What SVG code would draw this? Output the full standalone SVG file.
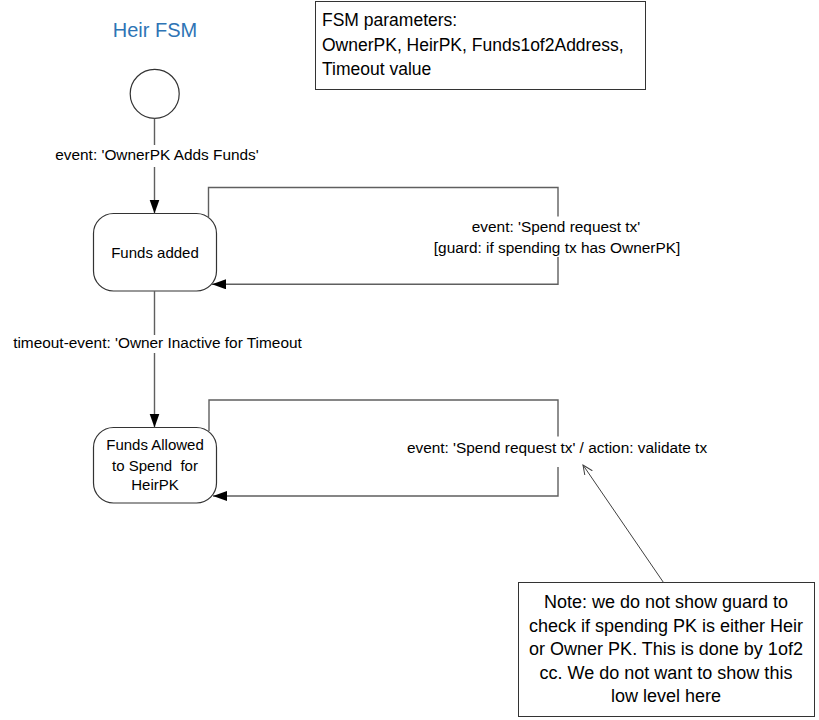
<svg xmlns="http://www.w3.org/2000/svg" width="819" height="720" viewBox="0 0 819 720">
  <style>
    text { font-family: "Liberation Sans", Arial, sans-serif; fill: #000; }
    .title { font-size: 20px; fill: #2e74b5; text-anchor: middle; }
    .param { font-size: 17.5px; }
    .lbl { font-size: 15.4px; text-anchor: middle; white-space: pre; }
    .st { font-size: 15px; text-anchor: middle; white-space: pre; }
    .note { font-size: 18px; text-anchor: middle; }
    .box { fill: #fff; stroke: #333; stroke-width: 1; }
    .state { fill: #fff; stroke: #333; stroke-width: 1.2; }
    .conn { fill: none; stroke: #5f5f5f; stroke-width: 1.4; }
    .noteline { fill: none; stroke: #404040; stroke-width: 1; }
  </style>
  <defs>
    <marker id="arr" markerUnits="userSpaceOnUse" markerWidth="15" markerHeight="11" refX="14" refY="5" orient="auto">
      <path d="M0,0 L14,5 L0,10 z" fill="#000"/>
    </marker>
    <marker id="open" markerUnits="userSpaceOnUse" markerWidth="12" markerHeight="10" refX="10" refY="4.5" orient="auto">
      <path d="M0,0 L10,4.5 L0,9" fill="none" stroke="#404040" stroke-width="1"/>
    </marker>
  </defs>

  <g id="title">
    <text class="title" x="155" y="37">Heir FSM</text>
  </g>

  <g id="params">
    <rect class="box" x="315.5" y="1.5" width="330" height="88"/>
    <text class="param" x="322" y="26">FSM parameters:</text>
    <text class="param" x="322" y="51">OwnerPK, HeirPK, Funds1of2Address,</text>
    <text class="param" x="322" y="74.5">Timeout value</text>
  </g>

  <g id="initial">
    <circle cx="154.7" cy="93.8" r="24.5" fill="#fff" stroke="#333" stroke-width="1.2"/>
  </g>

  <g id="funds-added">
    <rect class="state" x="93.5" y="213.5" width="123" height="77.5" rx="20" ry="20"/>
    <text class="st" x="155" y="258">Funds added</text>
  </g>

  <g id="funds-allowed">
    <rect class="state" x="93.5" y="427.5" width="123" height="75.5" rx="20" ry="20"/>
    <text class="st" x="155" y="450">Funds Allowed</text>
    <text class="st" x="155" y="470.5">to Spend  for</text>
    <text class="st" x="155" y="489.5">HeirPK</text>
  </g>

  <g id="note">
    <rect class="box" x="518.5" y="582.5" width="296" height="134"/>
    <text class="note" x="666" y="608">Note: we do not show guard to</text>
    <text class="note" x="666" y="631.5">check if spending PK is either Heir</text>
    <text class="note" x="666" y="655">or Owner PK. This is done by 1of2</text>
    <text class="note" x="666" y="678.5">cc. We do not want to show this</text>
    <text class="note" x="666" y="702">low level here</text>
  </g>

  <g id="connectors">
    <path class="conn" d="M154.5,118.5 V145 M154.5,167 V213.5" marker-end="url(#arr)"/>
    <text class="lbl" x="157" y="160">event: 'OwnerPK Adds Funds'</text>

    <path class="conn" d="M208.5,217.5 V187.5 H558 V216.5 M558,257 V284.3 H212" marker-end="url(#arr)"/>
    <text class="lbl" x="556" y="232">event: 'Spend request tx'</text>
    <text class="lbl" x="557" y="252.5">[guard: if spending tx has OwnerPK]</text>

    <path class="conn" d="M154.5,291 V335 M154.5,353 V427.5" marker-end="url(#arr)"/>
    <text class="lbl" x="157.5" y="348">timeout-event: 'Owner Inactive for Timeout</text>

    <path class="conn" d="M209,431 V400 H558 V436.5 M558,467 V496 H213" marker-end="url(#arr)"/>
    <text class="lbl" x="557" y="453">event: 'Spend request tx' / action: validate tx</text>

    <path class="noteline" d="M663.5,582.5 L583,465" marker-end="url(#open)"/>
  </g>
</svg>
